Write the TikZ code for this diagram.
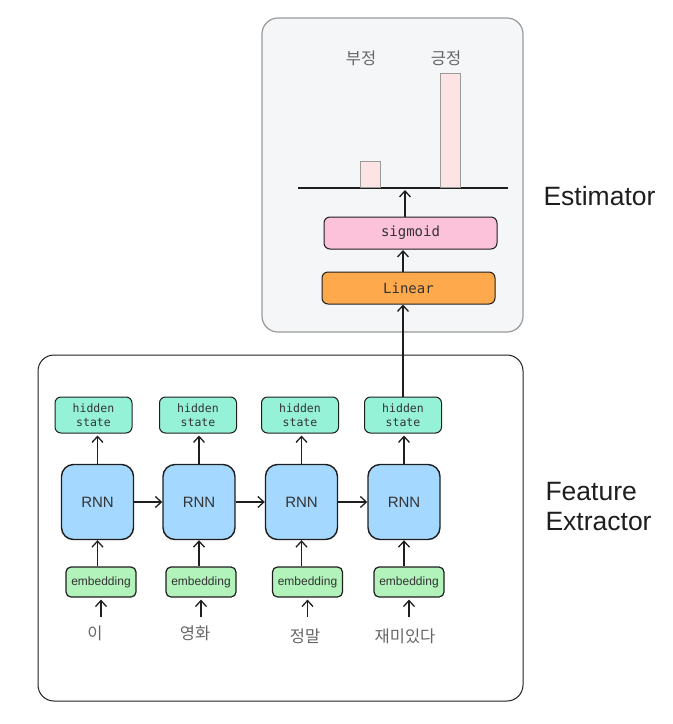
\documentclass[tikz,border=0pt]{standalone}
\usepackage{fontspec}
\setmainfont{Liberation Sans}
\newfontfamily\monof{DejaVu Sans Mono}
\newfontfamily\kor{Noto Sans CJK KR}
\usetikzlibrary{arrows.meta}
\definecolor{estfill}{HTML}{F5F6F8}
\definecolor{estline}{HTML}{9A9A9A}
\definecolor{rnnfill}{HTML}{A5D8FF}
\definecolor{hidfill}{HTML}{96F2D7}
\definecolor{embfill}{HTML}{B2F2BB}
\definecolor{sigfill}{HTML}{FBC2D9}
\definecolor{linfill}{HTML}{FFA94D}
\definecolor{barfill}{HTML}{FCE4E4}
\definecolor{ink}{HTML}{1E1E1E}
\definecolor{txt}{HTML}{333333}
\tikzset{
  arr/.style={draw=ink, line width=1.4pt, -{Straight Barb[length=6pt,width=11pt,line width=1.3pt]}},
  rnnbox/.style={draw=ink, line width=1.4pt, fill=rnnfill, rounded corners=12pt, minimum width=72pt, minimum height=75pt, inner sep=0pt, font=\fontsize{15}{17}\selectfont, text=txt},
  hidbox/.style={draw=ink, line width=1pt, fill=hidfill, rounded corners=6pt, minimum width=77pt, minimum height=36pt, inner sep=0pt, align=center, font=\monof\fontsize{11.5}{14.5}\selectfont, text=txt},
  embbox/.style={draw=ink, line width=1.2pt, fill=embfill, rounded corners=5pt, minimum width=70pt, minimum height=30pt, inner sep=0pt, font=\fontsize{12}{14}\selectfont, text=txt},
  wordlbl/.style={font=\kor\fontsize{16.5}{19}\selectfont, text=txt!75},
  bar/.style={draw=estline, line width=1pt, fill=barfill},
  monobox/.style={draw=ink, line width=1pt, rounded corners=6pt, minimum width=173pt, minimum height=32pt, inner sep=0pt, font=\monof\fontsize{14}{16}\selectfont, text=txt},
  title/.style={font=\fontsize{26.5}{30}\selectfont, text=ink, align=left}
}
\begin{document}
\begin{tikzpicture}[x=1pt,y=-1pt]
\useasboundingbox (0,0) rectangle (673,724);
% Estimator frame
\node[draw=estline, fill=estfill, line width=1.2pt, rounded corners=16pt, minimum width=261pt, minimum height=314pt, inner sep=0pt] (est) at (392.5,175) {};
% Feature extractor frame
\node[draw=ink, line width=1pt, rounded corners=16pt, minimum width=485pt, minimum height=346pt, inner sep=0pt] (fe) at (280.5,528) {};
% bars
\coordinate (bl) at (298,188);
\coordinate (br) at (508,188);
\draw[ink, line width=1.3pt] (bl) -- (br);
\node[bar, minimum width=20pt, minimum height=26pt, inner sep=0pt, anchor=south] (b1) at (370,188) {};
\node[bar, minimum width=20pt, minimum height=114pt, inner sep=0pt, anchor=south] (b2) at (450,188) {};
\node[wordlbl] (l1) at (361,58) {부정};
\node[wordlbl] (l2) at (446,58) {긍정};
\coordinate (base) at (405,190);
% sigmoid / linear
\node[monobox, fill=sigfill] (sig) at (410.5,233) {sigmoid};
\node[monobox, fill=linfill] (lin) at (408.5,288) {Linear};
\draw[arr] (sig.north -| base) -- (base);
\draw[arr] (403,272) -- (403,250);
% titles
\node[title, anchor=west] (t1) at (540,196) {Estimator};
\node[title, anchor=west] (t2) at (542,507) {Feature\\Extractor};
% columns
\foreach \i/\rx/\hx/\ex/\wx/\wy/\w in {1/97.5/93.5/101/95/633/이, 2/199/198/201/195/633/영화, 3/301.5/300/307.5/305/636/정말, 4/404/403/409/405/636/재미있다}{
  \node[rnnbox] (r\i) at (\rx,502) {RNN};
  \node[hidbox] (h\i) at (\hx,415) {hidden\\state};
  \node[embbox] (e\i) at (\ex,582) {embedding};
  \node[wordlbl] (w\i) at (\wx,\wy) {\w};
}
\foreach \i in {1,...,4}{
  \draw[arr] (e\i.north -| r\i) -- (r\i.south);
  \draw[arr] ([yshift=-1pt]r\i.north) -- ([yshift=-2pt]h\i.south -| r\i);
  \draw[arr] ([yshift=-19pt]e\i.south) -- ([yshift=-2pt]e\i.south);
}
\draw[arr] (r1.east) -- (r2.west);
\draw[arr] (r2.east) -- (r3.west);
\draw[arr] (r3.east) -- (r4.west);
\draw[arr] (h4.north) -- (lin.south -| h4);
\end{tikzpicture}
\end{document}
